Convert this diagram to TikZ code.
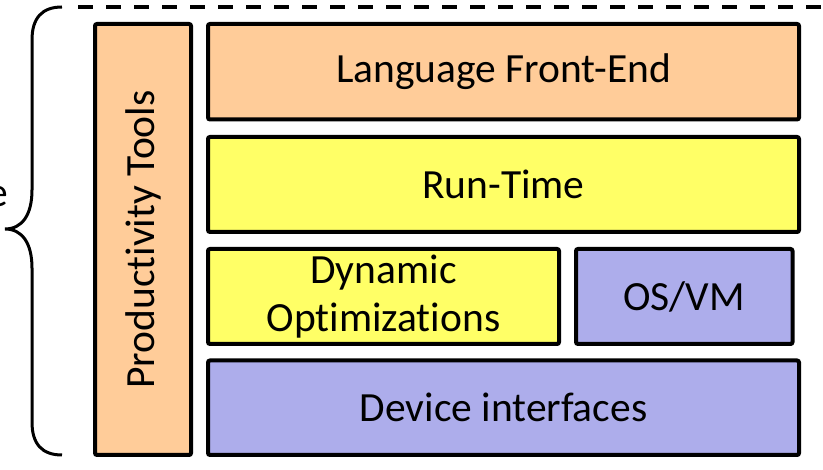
\documentclass[tikz,border=0pt]{standalone}
\usepackage{fontspec}
\setmainfont{Carlito}[Ligatures=NoCommon]
\definecolor{peach}{HTML}{FFCC99}
\definecolor{lyellow}{HTML}{FFFF66}
\definecolor{lpurple}{HTML}{ADADEB}
\begin{document}
\begin{tikzpicture}[x=1pt,y=1pt,
  layer/.style={draw=black, line width=4pt, rounded corners=2pt, inner sep=0pt, align=center,
     font=\fontsize{41.5}{48}\selectfont},
  lbl/.style={font=\fontsize{41.5}{48}\selectfont, inner sep=0pt}]
\useasboundingbox (0,0) rectangle (823,-470);
% left tool bar
\node[layer, fill=peach, minimum width=96pt, minimum height=431pt] (pt) at (143,-239.5) {};
\node[lbl, rotate=90] (ptl) at (pt.center) {Productivity Tools};
% layers
\node[layer, fill=peach, minimum width=591pt, minimum height=95.5pt] (lfe) at (503.5,-71.75) {Language Front-End};
\node[layer, fill=lyellow, minimum width=591pt, minimum height=95pt] (rt) at (503.5,-184.5) {Run-Time};
\node[layer, fill=lyellow, minimum width=351pt, minimum height=95pt] (dyn) at (383.5,-296.5) {Dynamic\\Optimizations};
\node[layer, fill=lpurple, minimum width=216.5pt, minimum height=95pt] (os) at (684.25,-296.5) {OS/VM};
\node[layer, fill=lpurple, minimum width=591pt, minimum height=94.5pt] (dev) at (503.5,-407.75) {Device interfaces};
% brace and dashed line
\coordinate (btop) at (62,-7);
\coordinate (bbot) at (62,-455);
\coordinate (dend) at (823,-7);
\draw[line width=3pt] (btop) .. controls (42,-7) and (32,-18) .. (32,-40) -- (32,-190)
   .. controls (32,-215) and (22,-229) .. (5,-229)
   .. controls (22,-229) and (32,-243) .. (32,-268) -- (32,-422)
   .. controls (32,-444) and (42,-455) .. (bbot);
\draw[line width=3.5pt, dash pattern=on 15pt off 13pt] (78,-7) -- (dend);
\node[lbl, anchor=east] (e) at (8,-197) {e};
\end{tikzpicture}
\end{document}
